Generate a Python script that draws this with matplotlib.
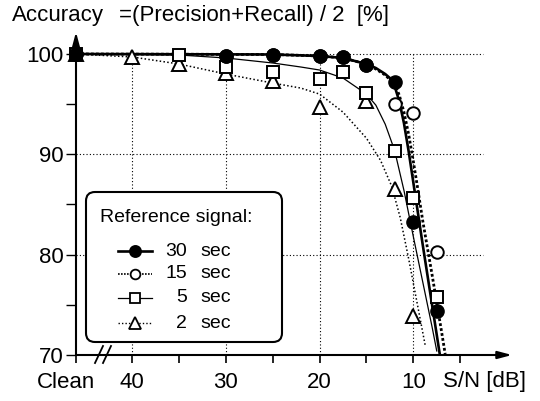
import matplotlib
matplotlib.use("Agg")
import matplotlib.pyplot as plt
from matplotlib.lines import Line2D
from matplotlib.patches import FancyBboxPatch

plt.rcParams['font.family'] = ['Liberation Sans', 'DejaVu Sans']

CLEAN = 46  # axis position used for the "Clean" condition

# ---- measured points (S/N in dB, accuracy in %) ----
snr_30 = [CLEAN, 30, 25, 20, 17.5, 15, 12, 10, 7.5]
acc_30 = [100, 99.8, 99.9, 99.8, 99.7, 98.9, 97.2, 83.3, 74.4]

snr_15 = [CLEAN, 30, 25, 20, 17.5, 15, 12, 10, 7.5]
acc_15 = [100, 99.8, 99.9, 99.8, 99.7, 98.9, 95.0, 94.1, 80.3]

snr_5 = [CLEAN, 35, 30, 25, 20, 17.5, 15, 12, 10, 7.5]
acc_5 = [100, 99.9, 98.7, 98.2, 97.5, 98.2, 96.1, 90.3, 85.6, 75.8]

snr_2 = [CLEAN, 40, 35, 30, 25, 20, 15, 12, 10]
acc_2 = [100, 99.7, 99.0, 98.1, 97.3, 94.7, 95.3, 86.5, 73.9]

# ---- fitted curves ----
fit30_x = [CLEAN, 25, 20, 17.5, 15, 14, 13, 12.5, 12, 11.5, 11, 10.5, 10, 9, 8, 7.2]
fit30_y = [100, 99.95, 99.8, 99.6, 99.0, 98.6, 98.0, 97.6, 96.8, 95.3, 93.1, 90.3, 87.2, 81.0, 75.0, 70.2]

fit15_x = [CLEAN, 25, 20, 17.5, 15, 14, 13, 12, 11.5, 11, 10.5, 10, 9.5, 9, 8, 7, 6.6]
fit15_y = [100, 99.95, 99.8, 99.6, 99.0, 98.5, 97.9, 97.0, 95.9, 94.2, 92.0, 89.3, 86.4, 83.4, 78.0, 72.4, 70.1]

fit5_x = [CLEAN, 35, 30, 25, 22, 20, 17.5, 15, 14, 13, 12, 11, 10, 9, 8, 7.5]
fit5_y = [100, 99.9, 99.6, 99.1, 98.7, 98.4, 97.6, 96.0, 94.9, 93.0, 90.4, 86.4, 81.8, 77.3, 72.8, 70.4]

fit2_x = [CLEAN, 40, 35, 30, 25, 22, 20, 17.5, 15, 13.5, 12.3, 11.4, 10.5, 9.6, 8.7]
fit2_y = [100, 99.7, 99.0, 98.0, 97.1, 96.6, 96.0, 94.2, 91.6, 89.4, 86.8, 83.7, 79.6, 75.2, 70.8]

x_ticks = [CLEAN, 40, 35, 30, 25, 20, 15, 10, 5]
x_ticklabels = ["", "40", "", "30", "", "20", "", "10", ""]
y_major = [70, 80, 90, 100]
y_minor = [75, 85, 95]

legend_labels = ["30", "15", "5", "2"]

W, H = 540, 401
fig = plt.figure(figsize=(W / 100, H / 100), dpi=100)
ax = fig.add_axes([76 / W, 1 - 355 / H, (512 - 76) / W, (355 - 32) / H])
ax.set_xlim(CLEAN, -0.53)
ax.set_ylim(70, 102.19)
for s in ax.spines.values():
    s.set_visible(False)

FS = 16
ax.set_xticks(x_ticks)
ax.set_xticklabels(x_ticklabels, fontsize=FS)
ax.set_yticks(y_major)
ax.set_yticklabels([str(v) for v in y_major], fontsize=FS)
ax.set_yticks(y_minor, minor=True)
ax.tick_params(axis='x', direction='out', length=6, width=1.2, pad=6)
ax.tick_params(axis='y', which='both', direction='out', length=7, width=1.0, pad=2)

# grid (dotted)
gkw = dict(color='black', lw=0.8, linestyle=(0, (1, 2)), zorder=1)
for yv in [80, 90, 100]:
    ax.plot([CLEAN, 2.6], [yv, yv], **gkw)
for xv in [40, 30, 20, 10]:
    ax.plot([xv, xv], [70, 100], **gkw)

# axes with arrows
akw = dict(arrowstyle='-|>,head_length=0.6,head_width=0.16', lw=1.5, color='black',
           shrinkA=0, shrinkB=0, mutation_scale=14)
ax.annotate('', xy=(CLEAN, 102.19), xytext=(CLEAN, 70), arrowprops=akw, annotation_clip=False)
ax.annotate('', xy=(-0.53, 70), xytext=(CLEAN, 70), arrowprops=akw, annotation_clip=False)

# fitted curves
ax.plot(fit2_x, fit2_y, color='black', lw=1.1, linestyle=(0, (1, 1.5)), zorder=3, clip_on=False)
ax.plot(fit5_x, fit5_y, color='black', lw=0.9, zorder=3, clip_on=False)
ax.plot(fit15_x, fit15_y, color='black', lw=2.0, linestyle=(0, (1, 0.8)), zorder=3, clip_on=False)
ax.plot(fit30_x, fit30_y, color='black', lw=1.9, zorder=3, clip_on=False)

# markers
ax.plot(snr_2, acc_2, linestyle='none', marker='^', ms=10, mfc='white', mec='black', mew=1.4, zorder=5, clip_on=False)
ax.plot(snr_5, acc_5, linestyle='none', marker='s', ms=8.5, mfc='white', mec='black', mew=1.4, zorder=6, clip_on=False)
ax.plot(snr_15, acc_15, linestyle='none', marker='o', ms=9, mfc='white', mec='black', mew=1.4, zorder=7, clip_on=False)
ax.plot(snr_30, acc_30, linestyle='none', marker='o', ms=9.5, mfc='black', mec='black', mew=1.0, zorder=8, clip_on=False)

# pixel helper (inches transform)
T = fig.dpi_scale_trans
def P(px, py):
    return px / 100, (H - py) / 100

# break marks on x axis
for x0 in (95, 103):
    fig.add_artist(Line2D([P(x0, 363)[0], P(x0 + 8, 346)[0]], [P(x0, 363)[1], P(x0 + 8, 346)[1]],
                          transform=T, color='black', lw=1.3, zorder=12))

# labels
fig.text(*P(66, 382), "Clean", transform=T, fontsize=FS, ha='center', va='center')
fig.text(*P(443, 382), "S/N [dB]", transform=T, fontsize=FS, ha='left', va='center')
fig.text(*P(12, 16), "Accuracy", transform=T, fontsize=FS, ha='left', va='center')
fig.text(*P(119, 16), "=(Precision+Recall) / 2  [%]", transform=T, fontsize=FS, ha='left', va='center')

# legend box
bx0, by0 = P(86, 342)
box = FancyBboxPatch((bx0, by0), 1.96, 1.50, boxstyle='round,pad=0,rounding_size=0.09',
                     transform=T, fc='white', ec='black', lw=1.5, zorder=10)
fig.add_artist(box)
LFS = 14
fig.text(*P(100, 218), "Reference signal:", transform=T, fontsize=LFS, ha='left', va='center', zorder=11)
rows = [251, 274, 298, 323]
styles = [
    dict(ls='-', lw=1.9, marker='o', ms=8, mfc='black'),
    dict(ls=(0, (1, 0.8)), lw=1.2, marker='o', ms=7, mfc='white'),
    dict(ls='-', lw=0.9, marker='s', ms=7.5, mfc='white'),
    dict(ls=(0, (1, 1.5)), lw=1.0, marker='^', ms=8.5, mfc='white'),
]
for yy, lab, st in zip(rows, legend_labels, styles):
    xa, ya = P(118, yy)
    xb, _ = P(152, yy)
    fig.add_artist(Line2D([xa, xb], [ya, ya], transform=T, color='black', lw=st['lw'],
                          linestyle=st['ls'], zorder=11))
    xm, _ = P(135, yy)
    fig.add_artist(Line2D([xm], [ya], transform=T, linestyle='none', marker=st['marker'], ms=st['ms'],
                          mfc=st['mfc'], mec='black', mew=1.3, zorder=12))
    fig.text(*P(187, yy), lab, transform=T, fontsize=LFS, ha='right', va='center', zorder=11)
    fig.text(*P(200, yy), "sec", transform=T, fontsize=LFS, ha='left', va='center', zorder=11)

fig.savefig('out.png', dpi=100)
